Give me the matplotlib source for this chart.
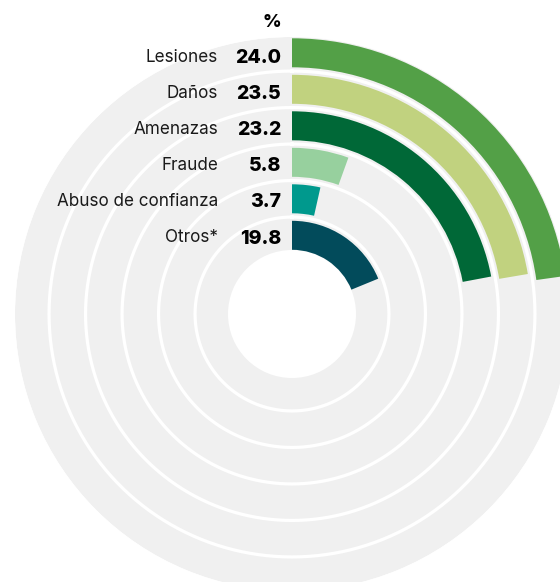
import numpy as np
import matplotlib.pyplot as plt

# data
categories = ['Lesiones', 'Daños', 'Amenazas', 'Fraude', 'Abuso de confianza', 'Otros*']
values = [24.0, 23.5, 23.2, 5.8, 3.7, 19.8]
colors = ['#53a047', '#c1d27f', '#006837', '#97d09e', '#00998d', '#024b5b']

W, H = 560, 582
cx, cy = 292, 314          # centre of the rings in pixels (from top)
r_max = 277                # outer radius of the grey disc
r_hole = 64                # white hole
r_top = 275.7              # outer radius of first bar
pitch = 36.5
bar_w = 29
deg_per_unit = 3.42        # angular scale

plt.rcParams['font.family'] = ['Inter', 'DejaVu Sans']

fig = plt.figure(figsize=(W / 100, H / 100), dpi=100)
ax = fig.add_axes([(cx - r_max) / W, (H - cy - r_max) / H, 2 * r_max / W, 2 * r_max / H],
                  projection='polar')
ax.set_theta_zero_location('N')
ax.set_theta_direction(-1)
ax.set_ylim(0, r_max)
ax.axis('off')

# grey background annulus
ax.bar(0, r_max - r_hole, width=2 * np.pi, bottom=r_hole, color='#f0f0f0', linewidth=0)

# white separators between rings
th = np.linspace(0, 2 * np.pi, 721)
for k in range(1, len(values)):
    r_sep = r_top - k * pitch + 3.75
    ax.plot(th, np.full_like(th, r_sep), color='white', lw=2.3)

# bars
for k, (v, c) in enumerate(zip(values, colors)):
    ang = np.deg2rad(v * deg_per_unit)
    r_in = r_top - k * pitch - bar_w
    ax.bar(0, bar_w, width=ang, bottom=r_in, align='edge', color=c, linewidth=0)

# labels
for k, (cat, v) in enumerate(zip(categories, values)):
    fig.text(218 / W, 1 - (61.7 + 36.1 * k) / H, cat, ha='right', va='baseline',
             fontsize=12.3, color='#1a1a1a')
    fig.text(281 / W, 1 - (63 + 36.1 * k) / H, f'{v:.1f}', ha='right', va='baseline',
             fontsize=14, fontweight='heavy', color='black')

fig.text(281 / W, 1 - 27 / H, '%', ha='right', va='baseline', fontsize=13,
         fontweight='heavy', color='black')

fig.savefig('out.png', dpi=100)
